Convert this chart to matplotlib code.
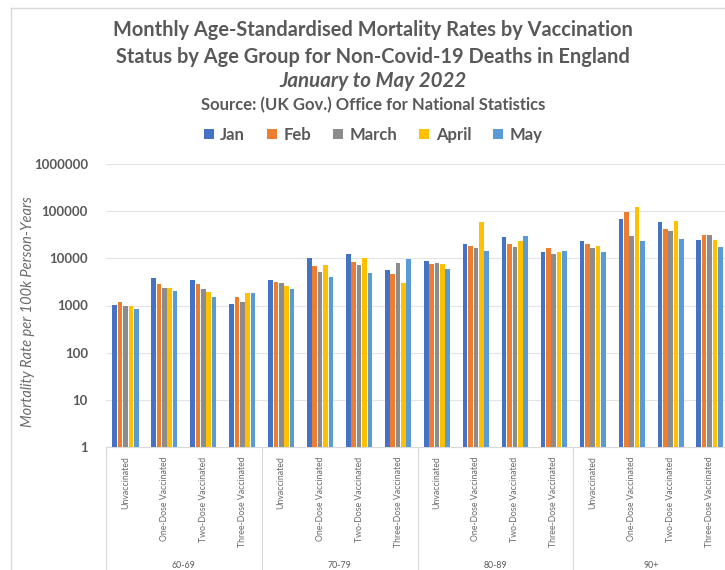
import numpy as np
import matplotlib
matplotlib.use("Agg")
import matplotlib.pyplot as plt
from matplotlib.lines import Line2D
import matplotlib.transforms as mtransforms

# Data (deaths per 100k person-years)
age_groups = ["60-69", "70-79", "80-89", "90+"]
statuses = ["Unvaccinated", "One-Dose Vaccinated", "Two-Dose Vaccinated", "Three-Dose Vaccinated"]
months = ["Jan", "Feb", "March", "April", "May"]

jan = [1050, 3750, 3500, 1090, 3450, 10000, 12600, 5700, 8850, 20600, 27700, 13500, 23000, 67500, 58500, 24400]
feb = [1200, 2800, 2800, 1550, 3080, 6800, 8500, 4650, 7550, 18100, 20600, 16700, 20300, 96700, 42400, 31500]
march = [1000, 2350, 2230, 1200, 2940, 5250, 7400, 8000, 8000, 16700, 17800, 12500, 16700, 30000, 37200, 31500]
april = [1000, 2400, 1900, 1820, 2570, 7200, 10000, 2940, 7550, 58500, 23400, 13500, 18100, 120000, 61300, 24700]
may = [830, 2050, 1500, 1820, 2200, 4060, 4950, 9600, 5900, 14400, 29500, 14000, 13500, 22800, 25500, 17000]

series = [jan, feb, march, april, may]
colors = ["#4472C4", "#ED7D31", "#8C8C8C", "#FFC000", "#5B9BD5"]

text_col = "#595959"
grid_col = "#E4E4E4"
W, H = 725, 570

plt.rcParams['font.family'] = ['Lato', 'DejaVu Sans']

fig = plt.figure(figsize=(W / 100, H / 100), dpi=100)
fig.patch.set_facecolor("white")

# plot area in pixel coords (from top-left)
x0, x1 = 106, 729
y_top, y_bot = 164, 447
ax = fig.add_axes([x0 / W, (H - y_bot) / H, (x1 - x0) / W, (y_bot - y_top) / H])

n = len(jan)
x = np.arange(n)
step = 0.138
for i, (vals, c, m) in enumerate(zip(series, colors, months)):
    ax.bar(x + (i - 2) * step, vals, width=0.118, color=c, label=m, zorder=3)

ax.set_yscale('log')
ax.set_ylim(1, 1e6)
ax.set_xlim(-0.5, n - 0.5)
yt = [1, 10, 100, 1000, 10000, 100000, 1000000]
ax.set_yticks(yt)
ax.set_yticklabels([str(v) for v in yt], fontsize=9.5, color=text_col, fontweight='bold')
ax.yaxis.set_minor_locator(matplotlib.ticker.NullLocator())
ax.tick_params(axis='y', length=0, pad=13)
ax.grid(axis='y', color=grid_col, linewidth=0.8, zorder=0)

ax.set_xticks(x)
ax.set_xticklabels(statuses * len(age_groups), rotation=90, fontsize=6.3, color="#6a6a6a", va='top')
ax.tick_params(axis='x', length=0, pad=7)

for s in ['top', 'right', 'left']:
    ax.spines[s].set_visible(False)
ax.spines['bottom'].set_color("#D9D9D9")

ax.set_ylabel("Mortality Rate per 100k Person-Years", fontsize=10.5, color="#6a6a6a",
              style='italic')
ax.yaxis.set_label_coords(-(106 - 35) / (x1 - x0), 0.48)

# age group labels and separators below the axis
trans = mtransforms.blended_transform_factory(ax.transData, fig.transFigure)
for g, name in enumerate(age_groups):
    ax.text(g * 4 + 1.5, 1 - 565 / H, name, transform=trans, ha='center', va='center',
            fontsize=6.3, color=text_col)
for g in range(len(age_groups) + 1):
    ax.add_line(Line2D([g * 4 - 0.5, g * 4 - 0.5], [(H - y_bot) / H, 0], transform=trans,
                       color="#D9D9D9", linewidth=0.8, clip_on=False))

# chart frame
fig.add_artist(Line2D([11 / W, 1], [1 - 8 / H, 1 - 8 / H], color="#D9D9D9", linewidth=1))
fig.add_artist(Line2D([11 / W, 11 / W], [1 - 8 / H, 0], color="#D9D9D9", linewidth=1))

# titles
cx = 373 / W
fig.text(cx, 1 - 30 / H, "Monthly Age-Standardised Mortality Rates by Vaccination",
         ha='center', va='center', fontsize=14.4, fontweight='bold', color=text_col)
fig.text(cx, 1 - 57 / H, "Status by Age Group for Non-Covid-19 Deaths in England",
         ha='center', va='center', fontsize=14.4, fontweight='bold', color=text_col)
fig.text(cx, 1 - 81 / H, "January to May 2022", ha='center', va='center', fontsize=14.8,
         fontweight='bold', style='italic', color=text_col)
fig.text(cx, 1 - 105 / H, "Source: (UK Gov.) Office for National Statistics",
         ha='center', va='center', fontsize=12, fontweight='bold', color=text_col)

handles, labels = ax.get_legend_handles_labels()
leg = fig.legend(handles, labels, loc='center', bbox_to_anchor=(cx, 1 - 135 / H), ncol=5,
                 frameon=False, prop={'family': 'Lato', 'size': 12, 'weight': 'bold'},
                 labelcolor=text_col, handlelength=0.6, handleheight=0.6,
                 handletextpad=0.4, columnspacing=1.3)

fig.savefig("out.png", dpi=100)
